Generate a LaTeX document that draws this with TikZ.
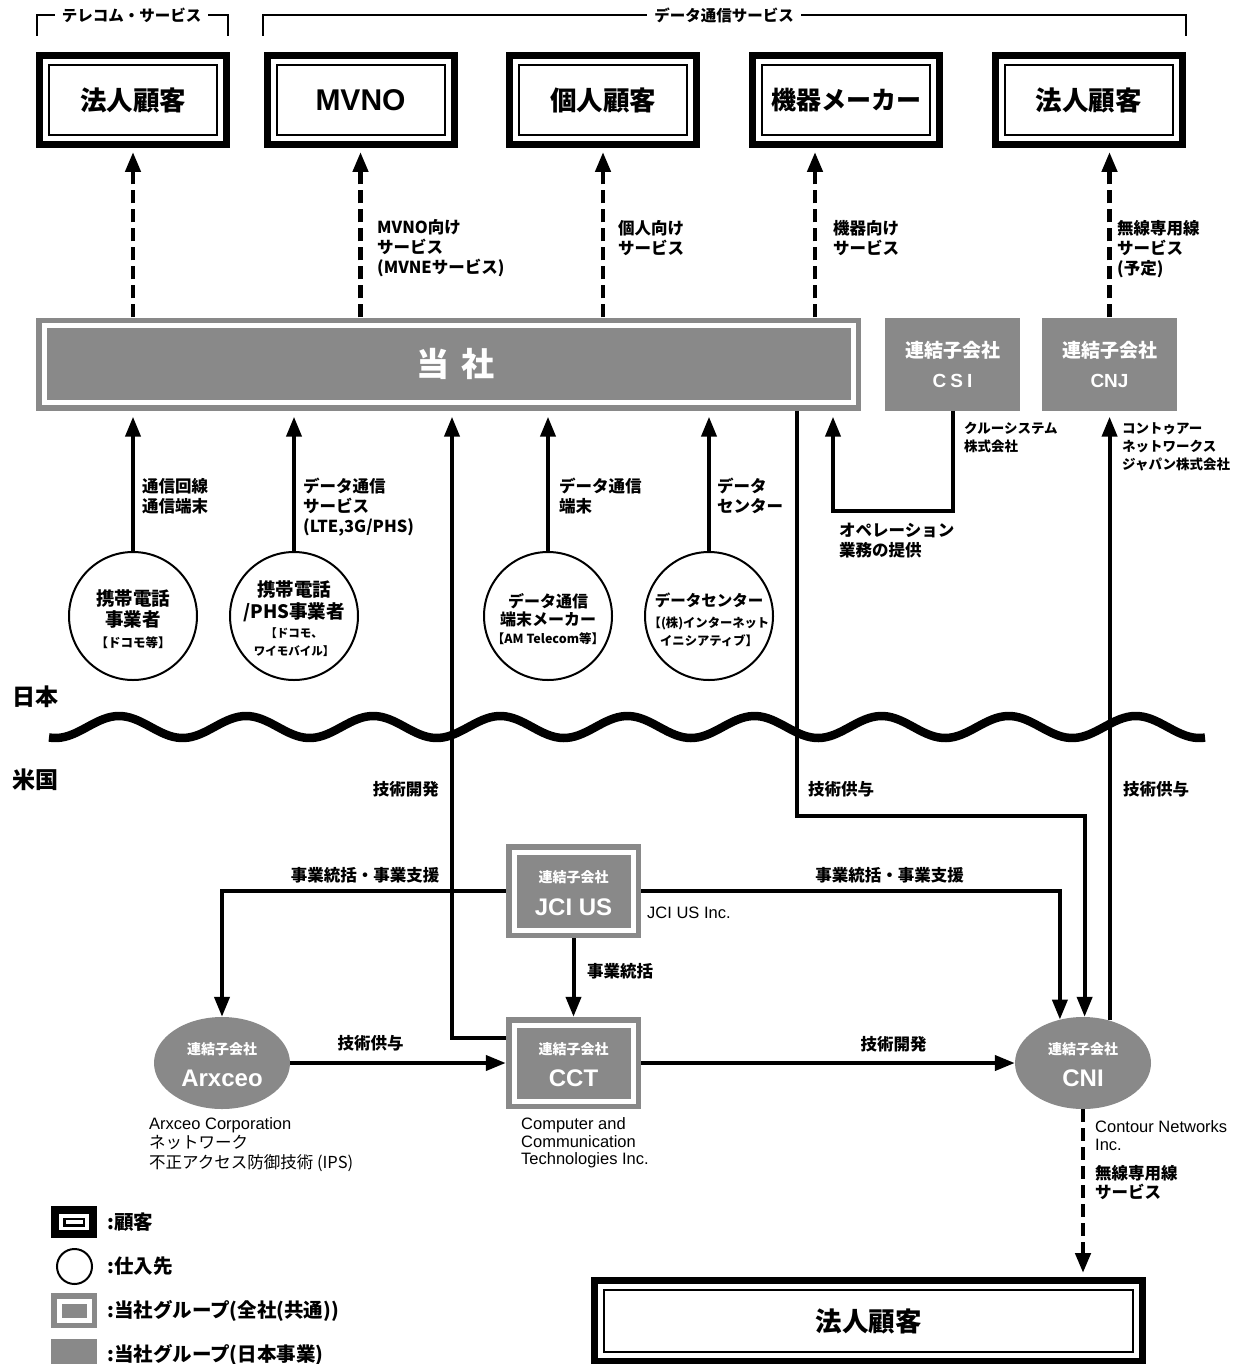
\documentclass[tikz,border=0pt]{standalone}
\usepackage{fontspec}
\setmainfont{Noto Sans CJK JP}
\newfontfamily\latinfont{Liberation Sans}
\usetikzlibrary{arrows.meta,shapes.geometric}
\definecolor{grp}{RGB}{137,137,137}

\tikzset{
  custbox/.style={draw, line width=7pt, fill=white, inner sep=0pt,
    minimum width=187pt, minimum height=89pt,
    font=\bfseries\fontsize{26.5}{30}\selectfont,
    path picture={\draw[line width=2pt]
      ([shift={(9.5pt,-9.5pt)}]path picture bounding box.north west) rectangle
      ([shift={(-9.5pt,9.5pt)}]path picture bounding box.south east);}},
  grpbox/.style={fill=grp, inner sep=0pt, text=white,
    path picture={\draw[white, line width=5pt]
      ([shift={(8pt,-8pt)}]path picture bounding box.north west) rectangle
      ([shift={(-8pt,8pt)}]path picture bounding box.south east);}},
  jpbox/.style={fill=grp, inner sep=0pt, text=white, align=center,
    minimum width=135pt, minimum height=93pt,
    font=\bfseries\fontsize{19}{30}\selectfont},
  subco/.style={ellipse, fill=grp, inner sep=0pt, minimum width=136pt, minimum height=92pt},
  supplier/.style={circle, draw, line width=2pt, inner sep=0pt, minimum size=128pt},
  suptxt/.style={anchor=north, inner sep=0pt, align=center},
  cotag/.style={inner sep=0pt, text=white, font=\bfseries\fontsize{14}{16}\selectfont},
  coname/.style={inner sep=0pt, text=white, font=\latinfont\bfseries\fontsize{24}{28}\selectfont},
  lbl/.style={anchor=north west, inner sep=0pt, align=left, font=\bfseries\fontsize{16.5}{20}\selectfont},
  smalllbl/.style={lbl, font=\bfseries\fontsize{13.5}{18}\selectfont},
  plainlbl/.style={anchor=north west, inner sep=0pt, align=left, font=\fontsize{16.5}{19.5}\selectfont},
  engnote/.style={anchor=north west, inner sep=0pt, align=left, font=\latinfont\fontsize{16.5}{17.5}\selectfont},
  brackettxt/.style={fill=white, inner xsep=7pt, inner ysep=2pt, font=\bfseries\fontsize{15.5}{18}\selectfont},
  legtxt/.style={anchor=west, inner sep=0pt, font=\bfseries\fontsize{19.5}{22}\selectfont},
  flow/.style={line width=4pt, -{Triangle[length=20pt,width=15pt]}},
  svc/.style={line width=4.5pt, dash pattern=on 13pt off 6pt, -{Triangle[length=20pt,width=15pt]}},
}
\newcommand{\bracktxt}[1]{{\fontsize{12.5}{18}\selectfont #1}}

\begin{document}
\begin{tikzpicture}[x=1pt, y=-1pt]
  \useasboundingbox (0,0) rectangle (1240,1364);

  % service brackets
  \draw[line width=1.8pt] (37,36) |- (228,15) -- (228,36);
  \node[brackettxt] (telhead) at (131.5,15) {テレコム・サービス};
  \draw[line width=1.8pt] (263,36) |- (1186,15) -- (1186,36);
  \node[brackettxt] (datahead) at (724,15) {データ通信サービス};

  % customers
  \node[custbox] (corpA) at (133,100) {法人顧客};
  \node[custbox] (mvno) at (360.5,100) {\latinfont\bfseries\fontsize{30}{32}\selectfont MVNO};
  \node[custbox] (indiv) at (603,100) {個人顧客};
  \node[custbox, font=\bfseries\fontsize{25}{30}\selectfont] (maker) at (846,100) {機器メーカー};
  \node[custbox] (corpB) at (1088.5,100) {法人顧客};

  % group companies in Japan
  \node[grpbox, minimum width=825pt, minimum height=93pt,
        font=\bfseries\fontsize{33}{36}\selectfont] (tousha) at (448.5,364) {\hspace*{14pt}当\hspace{13pt}社};
  \node[jpbox] (csi) at (952.5,364) {連結子会社\\{\latinfont C\hspace{4pt}S\hspace{4pt}I}};
  \node[jpbox] (cnj) at (1109.5,364) {連結子会社\\{\latinfont CNJ}};

  % suppliers
  \node[supplier] (carrier) at (133,616) {};
  \node[suptxt, font=\bfseries\fontsize{18.5}{21}\selectfont] (carriertxt) at (133,589)
    {携帯電話\\事業者\\[0.5pt]\bracktxt{【ドコモ等】}};
  \node[supplier] (phs) at (294,616) {};
  \node[suptxt, font=\bfseries\fontsize{18.5}{22}\selectfont] (phstxt) at (294,580)
    {携帯電話\\/PHS事業者\\[-2.6pt]{\fontsize{11.5}{18}\selectfont【ドコモ、}\\[-4pt]{\fontsize{11.5}{18}\selectfont ワイモバイル】}};
  \node[supplier] (devmaker) at (548,616) {};
  \node[suptxt, font=\bfseries\fontsize{16}{18}\selectfont] (devmakertxt) at (548,593)
    {データ通信\\端末メーカー\\[0.4pt]\bracktxt{【AM Telecom等】}};
  \node[supplier] (dcenter) at (709,616) {};
  \node[suptxt, font=\bfseries\fontsize{15.5}{18}\selectfont] (dcentertxt) at (709,593)
    {データセンター\\[2.8pt]{\fontsize{12.3}{18}\selectfont【(株)インターネット}\\{\fontsize{12.3}{18}\selectfont イニシアティブ】}};

  % border between Japan and the US
  \draw[line width=8.5pt] plot[domain=49:1205, samples=300] (\x, {727 - 11*cos(2.83242*(\x-119))});
  \node[anchor=west, inner sep=0pt, font=\bfseries\fontsize{23}{25}\selectfont] (japan) at (12,697) {日本};
  \node[anchor=west, inner sep=0pt, font=\bfseries\fontsize{23}{25}\selectfont] (usa) at (12,780) {米国};

  % group companies in the US
  \node[grpbox, minimum width=135pt, minimum height=94pt] (jcius) at (573.5,891) {};
  \node[cotag] (jcitag) at (573.5,877) {連結子会社};
  \node[coname] (jciname) at (573.5,907) {JCI US};
  \node[grpbox, minimum width=135pt, minimum height=92pt] (cct) at (573.5,1063) {};
  \node[cotag] (ccttag) at (573.5,1049) {連結子会社};
  \node[coname] (cctname) at (573.5,1078) {CCT};
  \node[subco] (arxceo) at (222,1063) {};
  \node[cotag] (arxtag) at (222,1049) {連結子会社};
  \node[coname] (arxname) at (222,1078) {Arxceo};
  \node[subco] (cni) at (1083,1063) {};
  \node[cotag] (cnitag) at (1083,1049) {連結子会社};
  \node[coname] (cniname) at (1083,1078) {CNI};

  \node[custbox, minimum width=548pt, minimum height=81pt] (corpC) at (868.5,1321) {法人顧客};

  % services to customers
  \coordinate (makerx) at (815,0);
  \draw[svc, shorten >=4pt] (tousha.north -| corpA) -- (corpA.south);
  \draw[svc, shorten >=4pt] (tousha.north -| mvno) -- (mvno.south);
  \draw[svc, shorten >=4pt] (tousha.north -| indiv) -- (indiv.south);
  \draw[svc, shorten >=4pt] (tousha.north -| makerx) -- (maker.south -| makerx);
  \draw[svc, shorten >=4pt] (cnj.north) -- (corpB.south -| cnj.north);
  \draw[svc, shorten >=4pt] (cni.south) -- (cni.south |- corpC.north);

  % supplies to the company
  \draw[flow, shorten >=6pt] (carrier.north) -- (carrier.north |- tousha.south);
  \draw[flow, shorten >=6pt] (phs.north) -- (phs.north |- tousha.south);
  \draw[flow, shorten >=6pt] (devmaker.north) -- (devmaker.north |- tousha.south);
  \draw[flow, shorten >=6pt] (dcenter.north) -- (dcenter.north |- tousha.south);

  % operations from CSI
  \coordinate (opsturn) at (833,511);
  \draw[flow, shorten >=6pt] (csi.south) |- (opsturn) -- (opsturn |- tousha.south);

  % development and licensing
  \coordinate (devturn) at (452,1038);
  \draw[flow, shorten >=6pt] (cct.west |- devturn) -- (devturn) -- (devturn |- tousha.south);
  \coordinate (licturn) at (797,816);
  \draw[flow] (tousha.south -| licturn) -- (licturn) -| (cni.88);
  \draw[flow, shorten >=6pt] (cni.58) -- (cni.58 |- cnj.south);

  % management in the US
  \draw[flow] (jcius.west) -| (arxceo.north);
  \draw[flow] (jcius.east) -| (cni.118);
  \draw[flow] (jcius.south) -- (cct.north);
  \draw[flow] (arxceo.east) -- (cct.west);
  \draw[flow] (cct.east) -- (cni.west);

  % connector labels
  \node[lbl] (mvnolbl) at (377,219.5) {MVNO向け\\サービス\\(MVNEサービス)};
  \node[lbl] (indivlbl) at (618,220) {個人向け\\サービス};
  \node[lbl] (makerlbl) at (833,220) {機器向け\\サービス};
  \node[lbl] (corpBlbl) at (1117,220) {無線専用線\\サービス\\(予定)};
  \node[lbl] (carrierlbl) at (142,478.5) {通信回線\\通信端末};
  \node[lbl] (phslbl) at (303,477.5) {データ通信\\サービス\\(LTE,3G/PHS)};
  \node[lbl] (devmakerlbl) at (559,477.5) {データ通信\\端末};
  \node[lbl] (dcenterlbl) at (717,477.5) {データ\\センター};
  \node[lbl] (opslbl) at (839,522.5) {オペレーション\\業務の提供};
  \node[smalllbl] (csilbl) at (964,422) {クルーシステム\\株式会社};
  \node[smalllbl] (cnjlbl) at (1122,422) {コントゥアー\\ネットワークス\\ジャパン株式会社};
  \node[lbl, anchor=east] (devlbl) at (439,789) {技術開発};
  \node[lbl, anchor=west] (liclbl) at (808,789) {技術供与};
  \node[lbl, anchor=west] (cnjliclbl) at (1123,789) {技術供与};
  \node[lbl, anchor=center] (mgmtleft) at (365,875) {事業統括・事業支援};
  \node[lbl, anchor=center] (mgmtright) at (889.5,875) {事業統括・事業支援};
  \node[lbl, anchor=west] (mgmtdown) at (587,971) {事業統括};
  \node[lbl, anchor=center] (arxlic) at (370.5,1043) {技術供与};
  \node[lbl, anchor=center] (cctdev) at (893.5,1044) {技術開発};

  % company names
  \node[engnote, anchor=west] (jcifull) at (647,913) {JCI US Inc.};
  \node[engnote] (cctfull) at (521,1117.5) {Computer and\\Communication\\Technologies Inc.};
  \node[plainlbl] (arxfull) at (149,1117) {{\latinfont Arxceo Corporation}\\ネットワーク\\不正アクセス防御技術 (IPS)};
  \node[engnote, font=\latinfont\fontsize{16.5}{18}\selectfont] (cnifull) at (1095,1120.5) {Contour Networks\\Inc.};
  \node[lbl, font=\bfseries\fontsize{16.5}{19}\selectfont] (cnisvc) at (1095,1165.5) {無線専用線\\サービス};

  % legend
  \node[draw, line width=8pt, minimum width=38pt, minimum height=24pt, inner sep=0pt] (legcust) at (74,1222) {};
  \node[draw, line width=2.5pt, minimum width=19.5pt, minimum height=6.5pt, inner sep=0pt] (legcustin) at (legcust) {};
  \node[legtxt] (legcusttxt) at (107,1222) {:顧客};
  \node[supplier, minimum size=35pt] (legsup) at (74.5,1266.5) {};
  \node[legtxt] (legsuptxt) at (107,1266) {:仕入先};
  \node[grpbox, minimum width=46pt, minimum height=35pt] (leggrp) at (74,1310.5) {};
  \node[legtxt] (leggrptxt) at (107,1311) {:当社グループ(全社(共通))};
  \node[fill=grp, inner sep=0pt, minimum width=46pt, minimum height=30pt] (legjp) at (74,1354) {};
  \node[legtxt] (legjptxt) at (107,1355) {:当社グループ(日本事業)};
\end{tikzpicture}
\end{document}
